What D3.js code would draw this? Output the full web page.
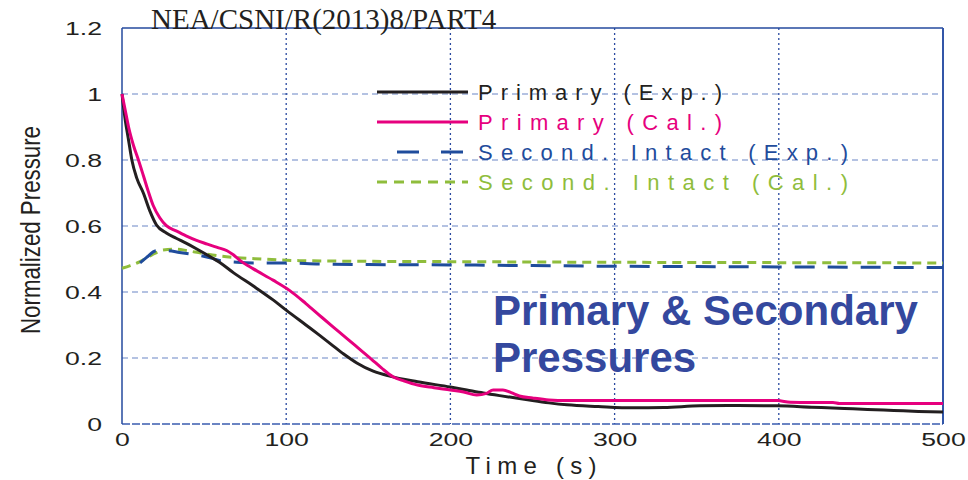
<!DOCTYPE html>
<html>
<head>
<meta charset="utf-8">
<script src="https://cdn.jsdelivr.net/npm/d3@7"></script>
<style>
  body { margin: 0; background: #fff; }
</style>
</head>
<body>
<div id="chart"></div>
<script>
// data (time in s, normalized pressure)
var primExpT = [0, 2, 4, 6, 9, 13, 17, 21, 27, 33, 39, 45, 52, 60, 68, 80, 92, 100, 112, 120, 127, 135, 143, 153, 163, 180, 200, 210, 220, 230, 245, 260, 271, 290, 311, 330, 352, 375, 399, 420, 440, 454, 470, 485, 500];
var primExpV = [1.0, 0.92, 0.86, 0.80, 0.745, 0.70, 0.645, 0.603, 0.579, 0.563, 0.548, 0.532, 0.512, 0.488, 0.458, 0.418, 0.376, 0.345, 0.30, 0.27, 0.243, 0.212, 0.185, 0.16, 0.145, 0.128, 0.112, 0.103, 0.094, 0.086, 0.075, 0.064, 0.058, 0.053, 0.049, 0.05, 0.055, 0.056, 0.055, 0.051, 0.047, 0.044, 0.041, 0.038, 0.036];

var primCalT = [0, 2, 4, 7, 10, 13, 16, 19, 23, 27, 33, 39, 45, 52, 58, 64, 68, 72, 80, 92, 102, 112, 122, 132, 142, 152, 158, 165, 172, 180, 190, 200, 208, 216, 222, 226, 232, 237, 242, 250, 260, 271, 290, 311, 350, 399, 407, 420, 433, 437, 460, 480, 500];
var primCalV = [1.0, 0.95, 0.9, 0.844, 0.8, 0.753, 0.705, 0.662, 0.625, 0.601, 0.585, 0.57, 0.557, 0.545, 0.535, 0.525, 0.512, 0.495, 0.47, 0.436, 0.405, 0.365, 0.322, 0.28, 0.238, 0.196, 0.17, 0.143, 0.13, 0.118, 0.11, 0.103, 0.097, 0.088, 0.093, 0.103, 0.103, 0.095, 0.085, 0.079, 0.073, 0.071, 0.071, 0.071, 0.071, 0.071, 0.066, 0.065, 0.065, 0.062, 0.062, 0.062, 0.062];

var secExpT = [11, 15, 21, 28, 35, 42, 48, 55, 60, 70, 80, 98, 120, 150, 200, 250, 300, 350, 400, 450, 500];
var secExpV = [0.488, 0.505, 0.525, 0.525, 0.52, 0.515, 0.51, 0.502, 0.495, 0.49, 0.488, 0.488, 0.485, 0.483, 0.482, 0.48, 0.478, 0.477, 0.476, 0.475, 0.474];

var secCalT = [0, 5, 11, 18, 25, 33, 40, 48, 58, 68, 85, 108, 150, 200, 300, 400, 500];
var secCalV = [0.472, 0.48, 0.492, 0.512, 0.527, 0.53, 0.525, 0.518, 0.51, 0.505, 0.5, 0.495, 0.493, 0.492, 0.49, 0.489, 0.488];

var seriesNames = ["Primary (Exp.)", "Primary (Cal.)", "Second. Intact (Exp.)", "Second. Intact (Cal.)"];
var xTicks = [0, 100, 200, 300, 400, 500];
var yTicks = [0, 0.2, 0.4, 0.6, 0.8, 1, 1.2];

var svgWidth = 968;
var svgHeight = 480;

var margin = {
    top: 28,
    right: 25,
    bottom: 56,
    left: 122
};

var width = svgWidth - margin.left - margin.right;
var height = svgHeight - margin.top - margin.bottom;

var svg = d3.select("#chart")
    .append("svg")
    .attr("width", svgWidth)
    .attr("height", svgHeight)
    .attr("font-family", "Liberation Sans, Arial, sans-serif");

var chartGroup = svg.append("g")
    .attr("transform", `translate(${margin.left}, ${margin.top})`);

var xScale = d3.scaleLinear().domain([0, 500]).range([0, width]);
var yScale = d3.scaleLinear().domain([0, 1.2]).range([height, 0]);

// grid: dashed horizontals, dotted verticals
chartGroup.selectAll(".hgrid")
    .data(yTicks.filter(d => d > 0 && d < 1.2))
    .enter().append("line")
    .attr("x1", 0).attr("x2", width)
    .attr("y1", d => yScale(d)).attr("y2", d => yScale(d))
    .attr("stroke", "#6a86c6")
    .attr("stroke-width", 1.2)
    .attr("stroke-dasharray", "6,4");

chartGroup.selectAll(".vgrid")
    .data(xTicks.filter(d => d > 0 && d < 500))
    .enter().append("line")
    .attr("x1", d => xScale(d)).attr("x2", d => xScale(d))
    .attr("y1", 0).attr("y2", height)
    .attr("stroke", "#2a4aa0")
    .attr("stroke-width", 1.3)
    .attr("stroke-dasharray", "2,3");

// frame
chartGroup.append("line").attr("x1", 0).attr("x2", width).attr("y1", height).attr("y2", height)
    .attr("stroke", "#3a5cb0").attr("stroke-width", 1.5).attr("stroke-dasharray", "8,2");
chartGroup.append("line").attr("x1", 0).attr("x2", width).attr("y1", 0).attr("y2", 0)
    .attr("stroke", "#244a9e").attr("stroke-width", 1.5);
chartGroup.append("line").attr("x1", 0).attr("x2", 0).attr("y1", 0).attr("y2", height)
    .attr("stroke", "#244a9e").attr("stroke-width", 1.5);
chartGroup.append("line").attr("x1", width).attr("x2", width).attr("y1", 0).attr("y2", height)
    .attr("stroke", "#3256a8").attr("stroke-width", 2);

// axes (labels only)
var bottomAxis = d3.axisBottom(xScale).tickValues(xTicks).tickSize(0).tickPadding(9)
    .tickFormat(d3.format("d"));
var leftAxis = d3.axisLeft(yScale).tickValues(yTicks).tickSize(0).tickPadding(20)
    .tickFormat(d => String(d));

var xAxis = chartGroup.append("g")
    .attr("transform", `translate(0, ${height})`)
    .call(bottomAxis);
var yAxis = chartGroup.append("g").call(leftAxis);

[xAxis, yAxis].forEach(function(ax) {
    ax.attr("font-family", null).attr("font-size", null);
    ax.select(".domain").remove();
    ax.selectAll("text")
        .attr("font-size", 19)
        .attr("fill", "#231f20")
        .each(function() {
            var len = this.getComputedTextLength();
            d3.select(this).attr("textLength", len * 1.4).attr("lengthAdjust", "spacingAndGlyphs");
        });
});

// curves
var series = [
    {t: primExpT, v: primExpV, color: "#231f20", dash: null},
    {t: primCalT, v: primCalV, color: "#e6007e", dash: null},
    {t: secExpT, v: secExpV, color: "#1f4c9c", dash: "20,13"},
    {t: secCalT, v: secCalV, color: "#8fbd3c", dash: "9,6"}
];

var line = d3.line()
    .x(d => xScale(d[0]))
    .y(d => yScale(d[1]))
    .curve(d3.curveMonotoneX);

// draw green then blue, then primaries on top
[3, 2, 0, 1].forEach(function(i) {
    var s = series[i];
    chartGroup.append("path")
        .datum(s.t.map((t, j) => [t, s.v[j]]))
        .attr("d", line)
        .attr("fill", "none")
        .attr("stroke", s.color)
        .attr("stroke-width", 3)
        .attr("stroke-dasharray", s.dash);
});

// legend
var legendLens = [244, 244, 370, 370];
var legend = svg.append("g");
series.forEach(function(s, i) {
    var yRow = 92 + i * 30;
    var lx1 = (i === 2) ? 397 : 377;
    var lx2 = (i === 2) ? 463 : 468;
    legend.append("line")
        .attr("x1", lx1).attr("x2", lx2)
        .attr("y1", yRow).attr("y2", yRow)
        .attr("stroke", s.color)
        .attr("stroke-width", 3)
        .attr("stroke-dasharray", i === 2 ? "22,22" : (i === 3 ? "10,7" : null));
    legend.append("text")
        .attr("x", 478)
        .attr("y", yRow + 8)
        .attr("font-size", 22)
        .attr("fill", s.color)
        .attr("textLength", legendLens[i])
        .attr("lengthAdjust", "spacing")
        .text(seriesNames[i]);
});

// axis titles
svg.append("text")
    .attr("x", 531)
    .attr("y", 474)
    .attr("text-anchor", "middle")
    .attr("font-size", 24)
    .attr("fill", "#231f20")
    .attr("textLength", 131)
    .attr("lengthAdjust", "spacing")
    .text("Time (s)");

svg.append("text")
    .attr("transform", "translate(40, 230) rotate(-90)")
    .attr("text-anchor", "middle")
    .attr("font-size", 28)
    .attr("fill", "#231f20")
    .attr("textLength", 208)
    .attr("lengthAdjust", "spacingAndGlyphs")
    .text("Normalized Pressure");

// big annotation
var note = svg.append("text")
    .attr("font-size", 42)
    .attr("font-weight", "bold")
    .attr("fill", "#34489e");
note.append("tspan").attr("x", 493).attr("y", 325).text("Primary & Secondary");
note.append("tspan").attr("x", 493).attr("y", 372).text("Pressures");

// document header
svg.append("text")
    .attr("x", 151)
    .attr("y", 28.5)
    .attr("font-family", "Liberation Serif, Times New Roman, serif")
    .attr("font-size", 29)
    .attr("fill", "#231f20")
    .text("NEA/CSNI/R(2013)8/PART4");
</script>
</body>
</html>
